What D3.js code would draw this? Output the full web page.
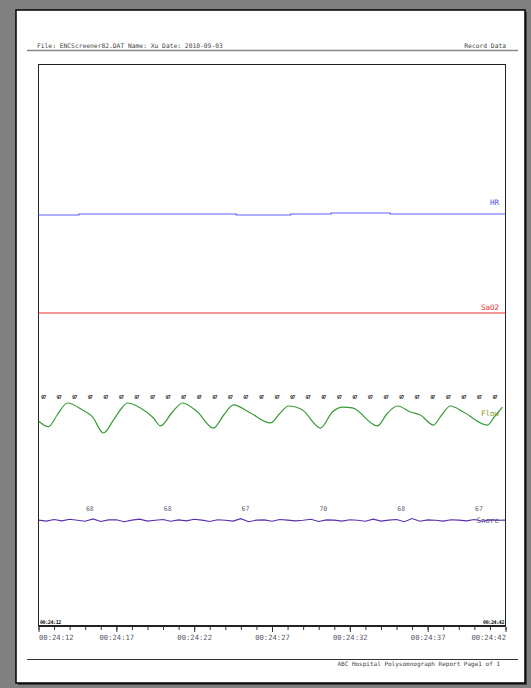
<!DOCTYPE html>
<html lang="en">
<head>
<meta charset="utf-8">
<title>Record Data</title>
<script src="https://d3js.org/d3.v7.min.js"></script>
<style>
  body { margin: 0; background: #808080; }
  svg { display: block; }
  text { font-family: "DejaVu Sans Mono", monospace; }
</style>
</head>
<body>
<script>
// ---- data ----
var timeLabels = ["00:24:12", "00:24:17", "00:24:22", "00:24:27", "00:24:32", "00:24:37", "00:24:42"];
var channels = ["HR", "SaO2", "Flow", "Snore"];

// heart rate, step values (seconds from 00:24:12)
var hrTimes = [0, 2.6, 12.7, 16.2, 18.8, 22.6, 30];
var hrValues = [67, 68, 67, 68, 69, 68, 68];

var sao2Times = [0, 30];
var sao2Values = [97, 97];

// flow waveform
var flowTimes = [0, 0.64, 1.2, 1.86, 2.83, 3.47, 4.17, 4.82, 5.3, 5.72, 6.55, 7.39, 7.84, 8.6, 9.25, 10.21, 11.24, 11.9, 12.52, 13.62, 14.9, 15.5, 16.06, 16.96, 18.11, 18.88, 19.52, 20.17, 21.77, 22.4, 23.06, 23.89, 24.53, 25.37, 25.9, 26.46, 27.3, 28.84, 29.3, 29.8];
var flowValues = [-0.2, -0.58, 0.2, 1.0, 0.53, 0.07, -1.0, -0.13, 0.6, 1.0, 0.67, 0.0, -0.53, 0.4, 1.0, 0.4, -0.67, 0.2, 0.87, 0.33, -0.33, 0.3, 0.8, 0.53, -0.67, 0.4, 0.73, 0.67, -0.53, 0.3, 0.8, 0.4, 0.2, -0.47, 0.2, 0.8, 0.4, -0.47, 0.1, 0.73];
var markerValues = d3.range(30).map(function () { return "97"; });

// snore channel, every 0.5 s
var snoreValues = [0.2, -0.3, 0.5, -0.2, 0.6, 0.1, -0.4, 0.8, -0.5, 0.3, 0.4, -0.6, 0.2, 0.7, -0.3, 0.1, 0.5, -0.4, 0.3, -0.2, 0.6, 0.2, -0.5, 0.4, 0.1, -0.3, 0.9, -0.6, 0.2, 0.3, -0.4, 0.5, 0.2, -0.2, 0.1, 0.6, -0.5, 0.3, 0.2, -0.3, 0.4, 0.1, -0.4, 0.7, -0.3, 0.2, 0.5, -0.6, 1.0, -0.4, 0.3, 0.1, -0.3, 0.4, 0.2, -0.2, 0.5, -0.4, 0.3, 0.1, 0.2];
var snoreNumTimes = [3.3, 8.3, 13.3, 18.3, 23.3, 28.3];
var snoreNumbers = ["68", "68", "67", "70", "68", "67"];

var headerLeft = "File: ENCScreener82.DAT  Name: Xu  Date: 2010-09-03";
var headerRight = "Record Data";
var footerText = "ABC Hospital Polysomnograph Report Page1 of 1";

// ---- page ----
var w = 531, h = 688;
var svg = d3.select("body").append("svg").attr("width", w).attr("height", h);

svg.append("rect").attr("width", w).attr("height", h).attr("fill", "#808080");
svg.append("rect").attr("x", 18).attr("y", 12).attr("width", 509).attr("height", 673).attr("fill", "#404040");
svg.append("rect").attr("x", 16).attr("y", 10).attr("width", 509).attr("height", 673)
  .attr("fill", "#fff").attr("stroke", "#000").attr("stroke-width", 1.5);

svg.append("text").attr("x", 37).attr("y", 48).attr("font-size", 6.3).attr("fill", "#444").text(headerLeft);
svg.append("text").attr("x", 506).attr("y", 48).attr("text-anchor", "end").attr("font-size", 6.3).attr("fill", "#444").text(headerRight);
svg.append("line").attr("x1", 27).attr("x2", 518).attr("y1", 50.5).attr("y2", 50.5).attr("stroke", "#888").attr("stroke-width", 1.5);

svg.append("line").attr("x1", 27).attr("x2", 518).attr("y1", 659.5).attr("y2", 659.5).attr("stroke", "#333").attr("stroke-width", 1);
svg.append("text").attr("x", 500).attr("y", 666).attr("text-anchor", "end").attr("font-size", 6).attr("fill", "#444").text(footerText);

// ---- chart box ----
var box = {left: 38.5, right: 505.5, top: 64.5, bottom: 626};
svg.append("rect").attr("x", box.left).attr("y", box.top)
  .attr("width", box.right - box.left).attr("height", box.bottom - box.top)
  .attr("fill", "none").attr("stroke", "#222").attr("stroke-width", 1);

var x = d3.scaleLinear().domain([0, 30]).range([box.left, box.right]);

// channel y scales
var yHR = d3.scaleLinear().domain([60, 76]).range([222, 206]);
var ySa = d3.scaleLinear().domain([90, 100]).range([320, 310]);
var yFlow = d3.scaleLinear().domain([-1, 1]).range([433, 403]);
var ySnore = d3.scaleLinear().domain([-2, 2]).range([524.5, 516.5]);

var hrLine = d3.line().x(function (d, i) { return x(hrTimes[i]); }).y(function (d) { return yHR(d); }).curve(d3.curveStepAfter);
svg.append("path").attr("d", hrLine(hrValues)).attr("fill", "none").attr("stroke", "#6060ff").attr("stroke-width", 1.2);

var saLine = d3.line().x(function (d, i) { return x(sao2Times[i]); }).y(function (d) { return ySa(d); });
svg.append("path").attr("d", saLine(sao2Values)).attr("fill", "none").attr("stroke", "#ee3030").attr("stroke-width", 1.2);

var flowLine = d3.line().x(function (d, i) { return x(flowTimes[i]); }).y(function (d) { return yFlow(d); }).curve(d3.curveMonotoneX);
svg.append("path").attr("d", flowLine(flowValues)).attr("fill", "none").attr("stroke", "#3a9a3a").attr("stroke-width", 1.2);

svg.selectAll(".marker").data(markerValues).enter().append("text")
  .attr("class", "marker")
  .attr("x", function (d, i) { return x(i + 0.3); })
  .attr("y", 399)
  .attr("text-anchor", "middle")
  .attr("font-size", 5).attr("font-weight", "bold").attr("letter-spacing", -0.8)
  .attr("fill", "#222").text(function (d) { return d; });

var snoreLine = d3.line().x(function (d, i) { return x(Math.min(i * 0.5, 30)); }).y(function (d) { return ySnore(d); });
svg.append("path").attr("d", snoreLine(snoreValues)).attr("fill", "none").attr("stroke", "#5a30a8").attr("stroke-width", 1.1);

svg.selectAll(".snum").data(snoreNumbers).enter().append("text")
  .attr("class", "snum")
  .attr("x", function (d, i) { return x(snoreNumTimes[i]); })
  .attr("y", 511)
  .attr("text-anchor", "middle").attr("font-size", 6.5).attr("fill", "#667")
  .text(function (d) { return d; });

// channel labels
var labelInfo = [
  {y: 205, color: "#5050ff"},
  {y: 310, color: "#ee3030"},
  {y: 416, color: "#8f9a2a"},
  {y: 523, color: "#5a4a8a"}
];
svg.selectAll(".chlabel").data(channels).enter().append("text")
  .attr("class", "chlabel")
  .attr("x", 499)
  .attr("y", function (d, i) { return labelInfo[i].y; })
  .attr("text-anchor", "end").attr("font-size", 7.5)
  .attr("font-family", "Liberation Serif, serif")
  .attr("fill", function (d, i) { return labelInfo[i].color; })
  .text(function (d) { return d; });

// ---- time axis ----
svg.append("line").attr("x1", box.left).attr("x2", box.right).attr("y1", box.bottom).attr("y2", box.bottom)
  .attr("stroke", "#222").attr("stroke-width", 2);

var minorAxis = d3.axisBottom(x).tickValues(d3.range(0, 31, 1)).tickSize(3).tickFormat("");
svg.append("g").attr("transform", "translate(0," + (box.bottom + 1) + ")").call(minorAxis)
  .call(function (g) { g.select(".domain").remove(); g.selectAll("line").attr("stroke", "#333"); });

var majorAxis = d3.axisBottom(x).tickValues(d3.range(0, 31, 5)).tickSize(5).tickPadding(3)
  .tickFormat(function (d, i) { return timeLabels[i]; });
var gx = svg.append("g").attr("transform", "translate(0," + (box.bottom + 1) + ")").call(majorAxis);
gx.select(".domain").remove();
gx.selectAll("line").attr("stroke", "#333");
gx.selectAll("text").attr("font-size", 7.2).attr("fill", "#556")
  .attr("font-family", "DejaVu Sans Mono, monospace")
  .attr("text-anchor", function (d, i) { return i === 0 ? "start" : (i === 6 ? "end" : "middle"); });

// small time stamps inside the box
svg.append("text").attr("x", 40).attr("y", 624).attr("font-size", 5).attr("font-weight", "bold")
  .attr("letter-spacing", -0.4).attr("fill", "#111").text(timeLabels[0]);
svg.append("text").attr("x", 504).attr("y", 624).attr("text-anchor", "end").attr("font-size", 5).attr("font-weight", "bold")
  .attr("letter-spacing", -0.4).attr("fill", "#111").text(timeLabels[6]);
</script>
</body>
</html>
